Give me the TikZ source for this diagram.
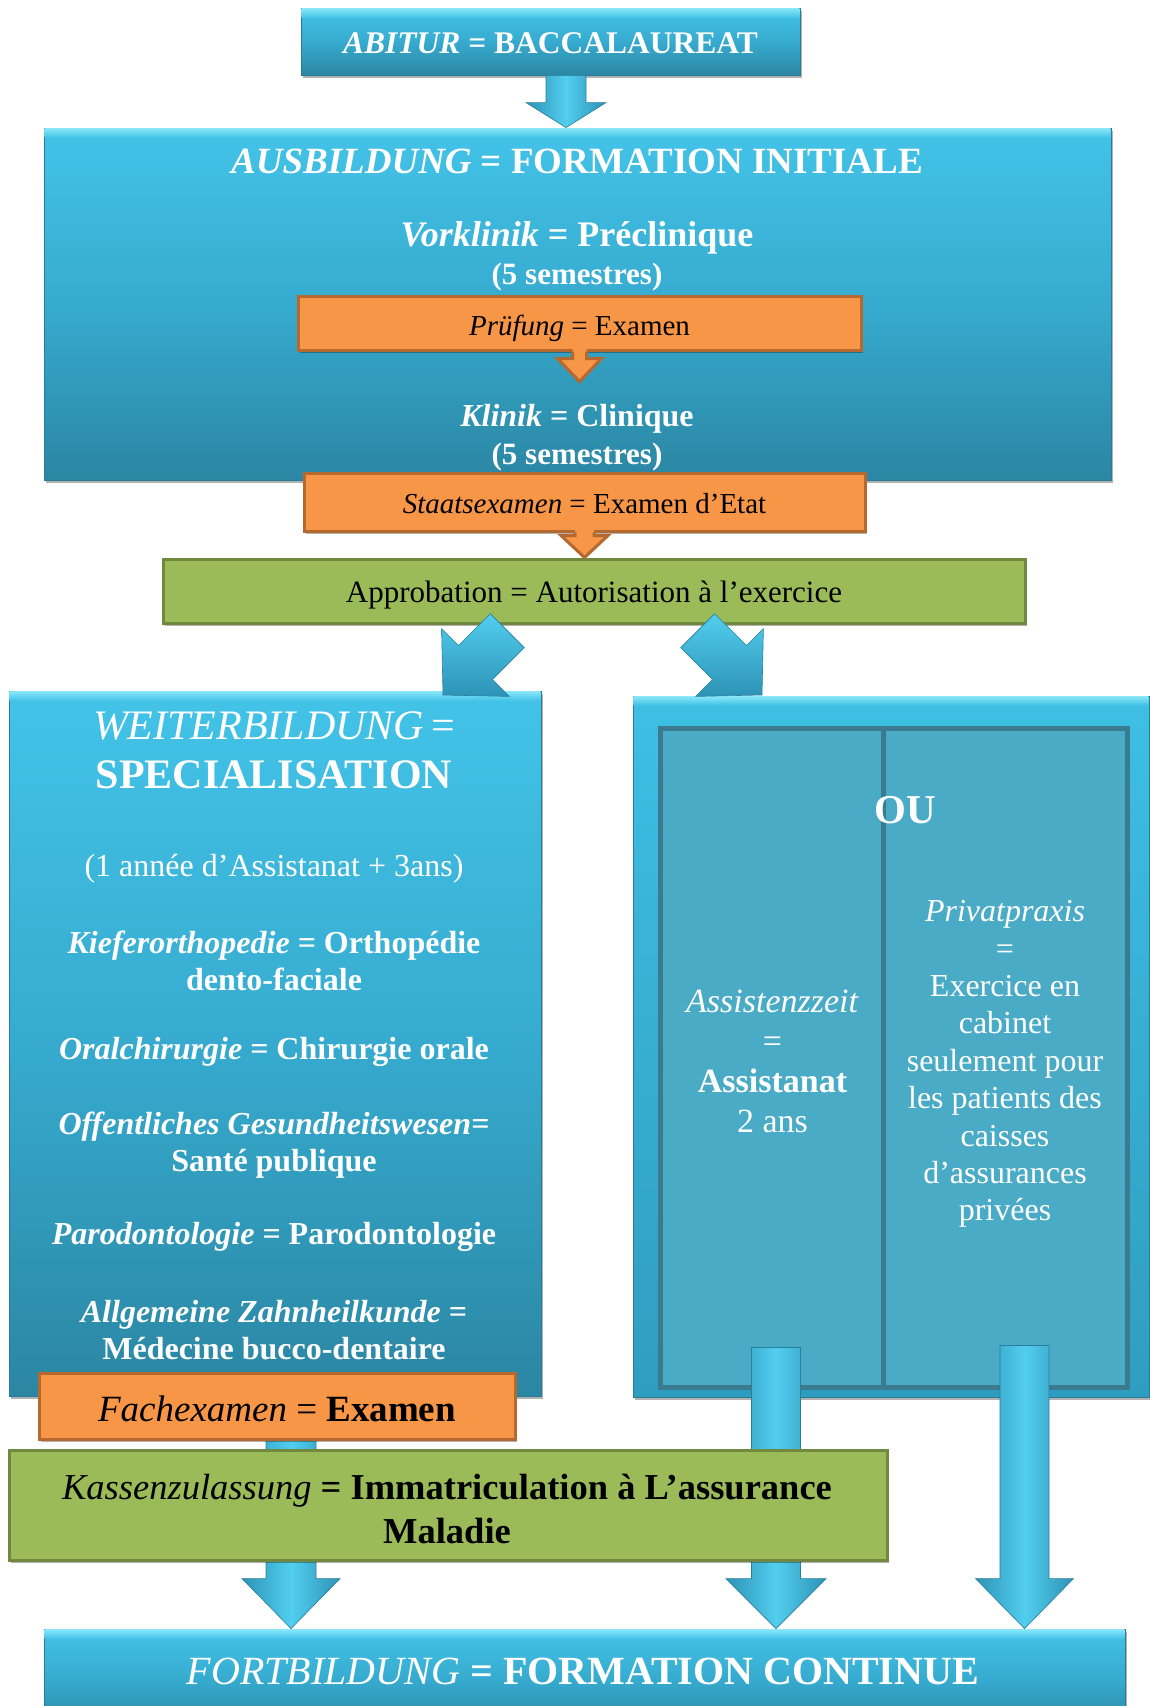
\documentclass[tikz,border=0pt]{standalone}
\usepackage{fontspec}
\setmainfont{Liberation Serif}
\usetikzlibrary{shadows,calc}
\definecolor{bluetop}{HTML}{43C3E8}
\definecolor{bluemid}{HTML}{36ABCF}
\definecolor{bluebot}{HTML}{2B86A3}
\definecolor{bluedraw}{HTML}{2A7C96}
\definecolor{rtop}{HTML}{3EBFE4}
\definecolor{rbot}{HTML}{2F9DC0}
\definecolor{hl}{HTML}{86E6F9}
\definecolor{panelfill}{HTML}{4AABC6}
\definecolor{paneldraw}{HTML}{3A7B8F}
\definecolor{orfill}{HTML}{F79646}
\definecolor{ordraw}{HTML}{B5692E}
\definecolor{grfill}{HTML}{9BBB59}
\definecolor{grdraw}{HTML}{71893F}
\definecolor{arrL}{HTML}{2D93B6}
\definecolor{arrM}{HTML}{52CEEF}
\definecolor{arrD}{HTML}{2A7F9C}
\newcommand\fs[2]{\fontsize{#1}{#2}\selectfont}
% vertical block arrow: #2 start, #3 tip, #4 half shaft, #5 half head, #6 head length
\newcommand\vblock[6][blockarr]{%
  \path[#1] let \p1=#2, \p2=#3 in
   (\x2-#4,\y1) -- (\x2-#4,\y2+#6) -- (\x2-#5,\y2+#6) -- (\x2,\y2) --
   (\x2+#5,\y2+#6) -- (\x2+#4,\y2+#6) -- (\x2+#4,\y1) -- cycle;}
% orange outlined arrow
\newcommand\oblock[5]{%
  \fill[orfill] let \p1=#1, \p2=#2 in
   (\x2-#3,\y1+4) -- (\x2-#3,\y2+#5) -- (\x2-#4,\y2+#5) -- (\x2,\y2) --
   (\x2+#4,\y2+#5) -- (\x2+#3,\y2+#5) -- (\x2+#3,\y1+4) -- cycle;
  \draw[ordraw,line width=3pt,line join=miter] let \p1=#1, \p2=#2 in
   (\x2-#3,\y1) -- (\x2-#3,\y2+#5) -- (\x2-#4,\y2+#5) -- (\x2,\y2) --
   (\x2+#4,\y2+#5) -- (\x2+#3,\y2+#5) -- (\x2+#3,\y1);}
\newcommand\hilite[2]{\shade[top color=hl,bottom color=#2]
  ([xshift=1pt,yshift=-1pt]#1.north west) rectangle ([xshift=-1pt,yshift=-10pt]#1.north east);}
\begin{document}
\begin{tikzpicture}[x=1pt,y=-1pt,
  shadowed/.style={drop shadow={shadow xshift=1.5pt,shadow yshift=-3pt,opacity=0.3,fill=black}},
  bluebox/.style={rectangle,inner sep=0pt,draw=bluedraw,line width=0.8pt,top color=bluetop,bottom color=bluebot,middle color=bluemid,shadowed},
  rightbox/.style={rectangle,inner sep=0pt,draw=bluedraw,line width=0.8pt,top color=rtop,bottom color=rbot,shadowed},
  panel/.style={rectangle,inner sep=0pt,fill=panelfill,draw=paneldraw,line width=5pt},
  orbox/.style={rectangle,inner sep=0pt,fill=orfill,draw=ordraw,line width=3pt,shadowed},
  grbox/.style={rectangle,inner sep=0pt,fill=grfill,draw=grdraw,line width=3pt,shadowed},
  wtxt/.style={text=white,inner sep=0pt,align=center},
  ktxt/.style={text=black,inner sep=0pt,align=center},
  blockarr/.style={left color=arrL,right color=arrL,middle color=arrM,draw=arrD,line width=0.6pt},
  diagarr/.style={top color=arrM,bottom color=arrL,draw=arrD,line width=0.6pt}
]
\useasboundingbox (0,0) rectangle (1149,1706);

% ---------- top part ----------
\node[bluebox,minimum width=499,minimum height=67] (abitur) at (550.5,41.5) {};
\hilite{abitur}{bluetop}
\node[bluebox,minimum width=1067,minimum height=352] (ausb) at (577.5,304) {};
\hilite{ausb}{bluetop}
\coordinate (a1) at ($(abitur.south)+(15.5,0)$);
\coordinate (a2) at (a1 |- ausb.north);
\vblock{(a1)}{(a2)}{20}{40}{25}

\node[wtxt,font={\fs{31.5}{36}\bfseries}] (tAbitur) at (550.5,43) {\textit{ABITUR} = BACCALAUREAT};
\node[wtxt,font={\fs{37}{42}\bfseries}] (tAusb) at (577,161) {\textit{AUSBILDUNG} = FORMATION INITIALE};
\node[wtxt,font={\fs{36}{40}\bfseries}] (tVork) at (577,238) {\textit{Vorklinik} = Préclinique};
\node[wtxt,font={\fs{31}{36}\bfseries}] (tSem1) at (577,277) {(5 semestres)};

\node[orbox,minimum width=563,minimum height=54] (pruef) at (579.5,323) {};
\coordinate (p1) at (pruef.south);
\coordinate (p2) at ($(pruef.south)+(0,30)$);
\oblock{(p1)}{(p2)}{7}{22}{23}
\node[ktxt,font={\fs{29}{34}}] (tPruef) at (579.5,328) {\textit{Prüfung} = Examen};

\node[wtxt,font={\fs{32}{37}\bfseries}] (tKlin) at (577,419) {\textit{Klinik} = Clinique};
\node[wtxt,font={\fs{31}{36}\bfseries}] (tSem2) at (577,457) {(5 semestres)};

\node[orbox,minimum width=561,minimum height=58] (staats) at (584.5,502) {};
\node[ktxt,font={\fs{29}{34}}] (tStaats) at (584.5,504) {\textit{Staatsexamen} = Examen d’Etat};

\node[grbox,minimum width=862,minimum height=64] (appro) at (594,591) {};
\node[ktxt,font={\fs{31}{36}}] (tAppro) at (594,595) {Approbation = Autorisation à l’exercice};
\coordinate (s1) at (staats.south);
\coordinate (s2) at (s1 |- appro.north);
\oblock{(s1)}{(s2)}{9.5}{23.5}{22}

% ---------- middle boxes ----------
\node[bluebox,minimum width=532,minimum height=705] (weiter) at (275,1043.5) {};
\hilite{weiter}{bluetop}
\node[rightbox,minimum width=516,minimum height=701] (droit) at (891,1046.5) {};
\hilite{droit}{rtop}
\node[panel,minimum width=223,minimum height=659] (panA) at (771.5,1057.5) {};
\node[panel,minimum width=244,minimum height=659] (panB) at (1005,1057.5) {};

% diagonal arrows from Approbation
\path[diagarr] (490.3,613.7) -- (458.5,645.5) -- (441.6,628.6) -- (443,695) --
  (509.4,696.4) -- (492.5,679.5) -- (524.3,647.7) -- cycle;
\path[diagarr] (714.7,613.7) -- (746.5,645.5) -- (763.4,628.6) -- (762,695) --
  (695.6,696.4) -- (712.5,679.5) -- (680.7,647.7) -- cycle;

% texts in WEITERBILDUNG
\node[wtxt,font={\fs{42}{48}}] (tWeit) at (274,726) {\textit{WEITERBILDUNG}\,=};
\node[wtxt,font={\fs{42}{48}\bfseries}] (tSpec) at (274,775) {SPECIALISATION};
\node[wtxt,font={\fs{32}{37}}] (tAnnee) at (274,869) {(1 année d’Assistanat + 3ans)};
\node[wtxt,font={\fs{32}{37}\bfseries}] (tKief) at (274,961) {\textit{Kieferorthopedie} = Orthopédie\\dento-faciale};
\node[wtxt,font={\fs{32}{37}\bfseries}] (tOral) at (274,1052) {\textit{Oralchirurgie} = Chirurgie orale};
\node[wtxt,font={\fs{32}{37}\bfseries}] (tOffe) at (274,1145) {\textit{Offentliches Gesundheitswesen}=\\Santé publique};
\node[wtxt,font={\fs{32}{37}\bfseries}] (tParo) at (274,1237) {\textit{Parodontologie} = Parodontologie};
\node[wtxt,font={\fs{32}{37}\bfseries}] (tAllg) at (274,1330) {\textit{Allgemeine Zahnheilkunde} =\\Médecine bucco-dentaire};

% texts in right box
\node[wtxt,font={\fs{41}{46}\bfseries}] (tOU) at (905,810) {OU};
\node[wtxt,font={\fs{34}{40}}] (tAssi) at (772.5,1061) {\textit{Assistenzzeit}\\=\\\textbf{Assistanat}\\2 ans};
\node[wtxt,font={\fs{32}{37.4}}] (tPriv) at (1005,1064) {\textit{Privatpraxis}\\=\\Exercice en\\cabinet\\seulement pour\\les patients des\\caisses\\d’assurances\\privées};

% ---------- bottom ----------
\node[bluebox,minimum width=1081,minimum height=100] (fort) at (584.5,1679) {};
\hilite{fort}{bluetop}
\node[wtxt,font={\fs{40}{46}}] (tFort) at (583,1671) {\textit{FORTBILDUNG} \textbf{= FORMATION CONTINUE}};

\coordinate (b1s) at ($(weiter.south)+(16,0)$);
\coordinate (b1t) at (b1s |- fort.north);
\vblock{(b1s)}{(b1t)}{25}{49}{50}
\coordinate (b2s) at ($(panA.south)+(4.5,-42)$);
\coordinate (b2t) at (b2s |- fort.north);
\vblock{(b2s)}{(b2t)}{24.5}{50}{50}
\coordinate (b3s) at ($(panB.south)+(19.5,-44)$);
\coordinate (b3t) at (b3s |- fort.north);
\vblock{(b3s)}{(b3t)}{24.5}{49}{50}

\node[orbox,minimum width=476,minimum height=66] (fach) at (277,1406) {};
\node[ktxt,font={\fs{37}{42}}] (tFach) at (277,1409) {\textit{Fachexamen} = \textbf{Examen}};
\node[grbox,minimum width=878,minimum height=110] (kassen) at (448,1505) {};
\node[ktxt,font={\fs{36.5}{43.5}}] (tKass) at (447,1509) {\textit{Kassenzulassung} \textbf{= Immatriculation à L’assurance}\\\textbf{Maladie}};
\end{tikzpicture}
\end{document}
